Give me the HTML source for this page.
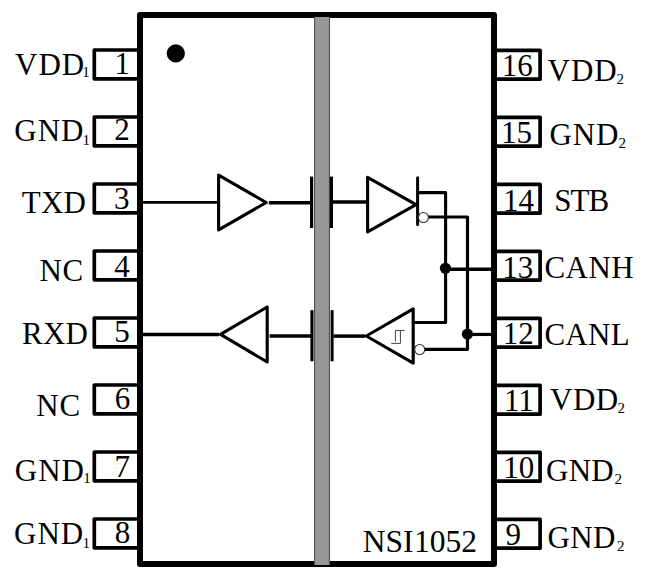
<!DOCTYPE html>
<html><head><meta charset="utf-8"><style>
html,body{margin:0;padding:0;background:#fff;width:646px;height:583px;overflow:hidden}
svg{display:block}
</style></head><body>
<svg width="646" height="583" viewBox="0 0 646 583">
<rect x="140" y="15" width="354" height="549" fill="none" stroke="#000" stroke-width="6" stroke-linejoin="round"/>
<rect x="314.1" y="17" width="15.8" height="548" fill="#979797"/>
<path d="M314.6 17 V565 M329.4 17 V565" fill="none" stroke="#4a4a4a" stroke-width="1"/>
<path d="M137 50.00 H94.3 V78.85 H137" fill="none" stroke="#000" stroke-width="3.7" stroke-linejoin="round"/>
<path d="M497 50.30 H540.1 V79.20 H497" fill="none" stroke="#000" stroke-width="3.7" stroke-linejoin="round"/>
<path d="M137 117.00 H94.3 V145.85 H137" fill="none" stroke="#000" stroke-width="3.7" stroke-linejoin="round"/>
<path d="M497 117.30 H540.1 V146.20 H497" fill="none" stroke="#000" stroke-width="3.7" stroke-linejoin="round"/>
<path d="M137 184.00 H94.3 V212.85 H137" fill="none" stroke="#000" stroke-width="3.7" stroke-linejoin="round"/>
<path d="M497 184.30 H540.1 V213.20 H497" fill="none" stroke="#000" stroke-width="3.7" stroke-linejoin="round"/>
<path d="M137 251.00 H94.3 V279.85 H137" fill="none" stroke="#000" stroke-width="3.7" stroke-linejoin="round"/>
<path d="M497 251.30 H540.1 V280.20 H497" fill="none" stroke="#000" stroke-width="3.7" stroke-linejoin="round"/>
<path d="M137 318.00 H94.3 V346.85 H137" fill="none" stroke="#000" stroke-width="3.7" stroke-linejoin="round"/>
<path d="M497 318.30 H540.1 V347.20 H497" fill="none" stroke="#000" stroke-width="3.7" stroke-linejoin="round"/>
<path d="M137 385.00 H94.3 V413.85 H137" fill="none" stroke="#000" stroke-width="3.7" stroke-linejoin="round"/>
<path d="M497 385.30 H540.1 V414.20 H497" fill="none" stroke="#000" stroke-width="3.7" stroke-linejoin="round"/>
<path d="M137 452.00 H94.3 V480.85 H137" fill="none" stroke="#000" stroke-width="3.7" stroke-linejoin="round"/>
<path d="M497 452.30 H540.1 V481.20 H497" fill="none" stroke="#000" stroke-width="3.7" stroke-linejoin="round"/>
<path d="M137 519.00 H94.3 V547.85 H137" fill="none" stroke="#000" stroke-width="3.7" stroke-linejoin="round"/>
<path d="M497 519.30 H540.1 V548.20 H497" fill="none" stroke="#000" stroke-width="3.7" stroke-linejoin="round"/>
<circle cx="175.8" cy="53.4" r="9.1" fill="#000"/>
<text x="15.10" y="74.5" font-family="Liberation Serif" font-size="31" letter-spacing="0.9" fill="#000">VDD</text>
<text x="89.70" y="77.20" text-anchor="end" font-family="Liberation Serif" font-size="15" fill="#000">1</text>
<text x="14.30" y="141.0" font-family="Liberation Serif" font-size="31" letter-spacing="1.0" fill="#000">GND</text>
<text x="90.00" y="144.70" text-anchor="end" font-family="Liberation Serif" font-size="15" fill="#000">1</text>
<text x="21.70" y="212.9" font-family="Liberation Serif" font-size="31" letter-spacing="0.3" fill="#000">TXD</text>
<text x="39.40" y="280.8" font-family="Liberation Serif" font-size="31" letter-spacing="0.8" fill="#000">NC</text>
<text x="22.10" y="343.7" font-family="Liberation Serif" font-size="31" letter-spacing="0.2" fill="#000">RXD</text>
<text x="36.30" y="415.7" font-family="Liberation Serif" font-size="31" letter-spacing="0.8" fill="#000">NC</text>
<text x="14.85" y="480.5" font-family="Liberation Serif" font-size="31" letter-spacing="1.0" fill="#000">GND</text>
<text x="90.80" y="483.30" text-anchor="end" font-family="Liberation Serif" font-size="15" fill="#000">1</text>
<text x="13.90" y="543.8" font-family="Liberation Serif" font-size="31" letter-spacing="1.1" fill="#000">GND</text>
<text x="90.00" y="547.50" text-anchor="end" font-family="Liberation Serif" font-size="15" fill="#000">1</text>
<text x="547.50" y="81.0" font-family="Liberation Serif" font-size="31" letter-spacing="1.0" fill="#000">VDD</text>
<text x="624.00" y="84.00" text-anchor="end" font-family="Liberation Serif" font-size="15" fill="#000">2</text>
<text x="549.50" y="145.2" font-family="Liberation Serif" font-size="31" letter-spacing="0.9" fill="#000">GND</text>
<text x="625.90" y="147.80" text-anchor="end" font-family="Liberation Serif" font-size="15" fill="#000">2</text>
<text x="554.20" y="211.2" font-family="Liberation Serif" font-size="31" letter-spacing="-0.9" fill="#000">STB</text>
<text x="544.40" y="277.9" font-family="Liberation Serif" font-size="31" letter-spacing="0.5" fill="#000">CANH</text>
<text x="544.40" y="344.9" font-family="Liberation Serif" font-size="31" letter-spacing="0.3" fill="#000">CANL</text>
<text x="550.10" y="410.2" font-family="Liberation Serif" font-size="31" letter-spacing="0.5" fill="#000">VDD</text>
<text x="625.10" y="413.00" text-anchor="end" font-family="Liberation Serif" font-size="15" fill="#000">2</text>
<text x="546.00" y="480.7" font-family="Liberation Serif" font-size="31" letter-spacing="0.3" fill="#000">GND</text>
<text x="622.00" y="483.50" text-anchor="end" font-family="Liberation Serif" font-size="15" fill="#000">2</text>
<text x="547.50" y="547.7" font-family="Liberation Serif" font-size="31" letter-spacing="0.4" fill="#000">GND</text>
<text x="624.40" y="550.50" text-anchor="end" font-family="Liberation Serif" font-size="15" fill="#000">2</text>
<text x="122.35" y="73.90" text-anchor="middle" font-family="Liberation Serif" font-size="31" fill="#000">1</text>
<text x="517.15" y="75.70" text-anchor="middle" font-family="Liberation Serif" font-size="31" fill="#000">16</text>
<text x="122.00" y="140.00" text-anchor="middle" font-family="Liberation Serif" font-size="31" fill="#000">2</text>
<text x="516.55" y="142.80" text-anchor="middle" font-family="Liberation Serif" font-size="31" fill="#000">15</text>
<text x="121.70" y="209.20" text-anchor="middle" font-family="Liberation Serif" font-size="31" fill="#000">3</text>
<text x="518.45" y="210.90" text-anchor="middle" font-family="Liberation Serif" font-size="31" fill="#000">14</text>
<text x="122.00" y="276.60" text-anchor="middle" font-family="Liberation Serif" font-size="31" fill="#000">4</text>
<text x="517.65" y="278.00" text-anchor="middle" font-family="Liberation Serif" font-size="31" fill="#000">13</text>
<text x="122.00" y="342.30" text-anchor="middle" font-family="Liberation Serif" font-size="31" fill="#000">5</text>
<text x="518.15" y="343.80" text-anchor="middle" font-family="Liberation Serif" font-size="31" fill="#000">12</text>
<text x="122.50" y="409.40" text-anchor="middle" font-family="Liberation Serif" font-size="31" fill="#000">6</text>
<text x="518.90" y="411.30" text-anchor="middle" font-family="Liberation Serif" font-size="31" fill="#000">11</text>
<text x="122.35" y="477.10" text-anchor="middle" font-family="Liberation Serif" font-size="31" fill="#000">7</text>
<text x="518.75" y="478.40" text-anchor="middle" font-family="Liberation Serif" font-size="31" fill="#000">10</text>
<text x="122.50" y="543.10" text-anchor="middle" font-family="Liberation Serif" font-size="31" fill="#000">8</text>
<text x="513.30" y="545.10" text-anchor="middle" font-family="Liberation Serif" font-size="31" fill="#000">9</text>
<text y="552.3" font-family="Liberation Serif" font-size="31.5" fill="#000"><tspan x="362.8">NSI</tspan><tspan x="414">1052</tspan></text>
<path d="M143 202.4 H217.5" fill="none" stroke="#000" stroke-width="2.9"/>
<path d="M218.6 175.1 V229.9 L266.2 202.5 Z" fill="none" stroke="#000" stroke-width="3.1" stroke-linejoin="round"/>
<path d="M268.8 202.8 H311" fill="none" stroke="#000" stroke-width="3.6"/>
<rect x="310" y="176.6" width="3.2" height="51.4" fill="#000"/>
<rect x="329.8" y="176.6" width="3.2" height="51.4" fill="#000"/>
<path d="M333 202.1 H367" fill="none" stroke="#000" stroke-width="3.5"/>
<path d="M367.6 177.4 V231.9 L416 204.6 Z" fill="none" stroke="#000" stroke-width="3.1" stroke-linejoin="round"/>
<path d="M417.6 177.8 V224.4" fill="none" stroke="#000" stroke-width="3" stroke-linecap="round"/>
<path d="M417.8 192.6 H445.6 V322.5 H413" fill="none" stroke="#000" stroke-width="3.1" stroke-linejoin="round"/>
<path d="M428 217.0 H467.5 V349.3 H424.7" fill="none" stroke="#000" stroke-width="3.2" stroke-linejoin="round"/>
<circle cx="445.45" cy="268.25" r="5.6" fill="#000"/>
<path d="M445 269.2 H492" fill="none" stroke="#000" stroke-width="3.4"/>
<circle cx="467.45" cy="334.15" r="5.6" fill="#000"/>
<path d="M467 334.45 H492" fill="none" stroke="#000" stroke-width="3.2"/>
<path d="M413.2 308.9 V363.1 L366.3 336 Z" fill="none" stroke="#000" stroke-width="3.1" stroke-linejoin="round"/>
<path d="M333.5 336.1 H365" fill="none" stroke="#000" stroke-width="3.5"/>
<path d="M404.7 330.5 H395.4 V341.7 M400.4 330.5 V343.4 H391.2" fill="none" stroke="#444" stroke-width="1"/>
<circle cx="423.45" cy="217.5" r="5.0" fill="#fff" stroke="#333" stroke-width="1.1"/>
<circle cx="419.7" cy="349.5" r="5.0" fill="#fff" stroke="#333" stroke-width="1.1"/>
<rect x="310.4" y="310.2" width="3.1" height="51.1" fill="#000"/>
<rect x="330.6" y="310.2" width="3.0" height="51.1" fill="#000"/>
<path d="M269.6 336.1 H311" fill="none" stroke="#000" stroke-width="3.5"/>
<path d="M267.2 307 V362 L220.5 334.4 Z" fill="none" stroke="#000" stroke-width="3.1" stroke-linejoin="round"/>
<path d="M143 334.4 H219" fill="none" stroke="#000" stroke-width="3.5"/>
</svg>
</body></html>
